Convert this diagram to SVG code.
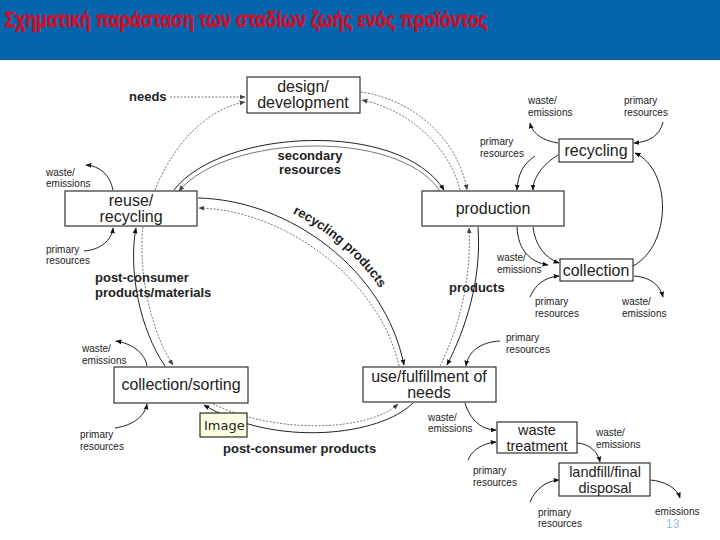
<svg xmlns="http://www.w3.org/2000/svg" width="720" height="540" viewBox="0 0 720 540">
<defs>
<marker id="ak" viewBox="0 0 10 10" refX="9" refY="5" markerWidth="6" markerHeight="6" markerUnits="userSpaceOnUse" orient="auto"><path d="M0,1 L10,5 L0,9 z" fill="#111"/></marker>
<marker id="ag" viewBox="0 0 10 10" refX="9" refY="5" markerWidth="6" markerHeight="6" markerUnits="userSpaceOnUse" orient="auto"><path d="M0,1 L10,5 L0,9 z" fill="#444"/></marker>
<style>
.s{fill:none;stroke:#222;stroke-width:1}
.g{fill:none;stroke:#777;stroke-width:1}
.d{fill:none;stroke:#777;stroke-width:1;stroke-dasharray:2 1.5}
.box{fill:#fff;stroke:#333;stroke-width:1.2}
text{font-family:"Liberation Sans",Arial,sans-serif;fill:#222}
.bt{font-size:16px;text-anchor:middle}
.bt2{font-size:14.5px;text-anchor:middle}
.sm{font-size:10px}
.b{font-size:13px;font-weight:bold}
</style>
</defs>
<rect x="0" y="0" width="720" height="540" fill="#fff"/>
<rect x="0" y="0" width="720" height="60" fill="#0565AC"/>
<text x="5" y="27" font-size="22" font-weight="bold" style="fill:#D0102A;stroke:#D0102A;stroke-width:0.6" textLength="483" lengthAdjust="spacingAndGlyphs">Σχηματική παράσταση των σταδίων ζωής ενός προϊόντος</text>

<g id="connectors">
<path class="d" d="M170,97 L245,97" marker-end="url(#ag)"/>
<path class="d" d="M155,190 C175,140 210,108 245,102" marker-end="url(#ag)"/>
<path class="d" d="M361,92 C415,100 458,140 467,190" marker-end="url(#ag)"/>
<path class="d" d="M460,190 C450,148 410,110 362,100" marker-end="url(#ag)"/>
<path class="s" d="M174,190 C222,128 400,120 444,190" marker-end="url(#ak)"/>
<path class="g" d="M440,191 C398,128 226,134 179,191" marker-end="url(#ag)"/>
<path class="s" d="M198,198 C290,200 385,270 404,365" marker-end="url(#ak)"/>
<path class="d" d="M399,366 C380,280 285,210 199,208" marker-end="url(#ag)"/>
<path class="s" d="M478,227 C482,280 465,330 447,365" marker-end="url(#ak)"/>
<path class="d" d="M440,366 C458,330 472,280 469,228" marker-end="url(#ag)"/>
<path class="s" d="M413,403 C380,436 275,448 204,405" marker-end="url(#ak)"/>
<path class="d" d="M213,404 C275,434 368,432 398,404" marker-end="url(#ag)"/>
<path class="s" d="M165,366 C140,330 128,270 136,228" marker-end="url(#ak)"/>
<path class="d" d="M143,227 C138,270 150,330 173,365" marker-end="url(#ag)"/>
<path class="s" d="M113,190 C110,175 100,166 86,165" marker-end="url(#ak)"/>
<path class="s" d="M84,251 C100,250 112,240 113,228" marker-end="url(#ak)"/>
<path class="s" d="M558,143 C540,140 532,132 530,123" marker-end="url(#ak)"/>
<path class="s" d="M663,122 C660,135 650,142 634,143" marker-end="url(#ak)"/>
<path class="s" d="M535,156 C522,165 518,175 517,190" marker-end="url(#ak)"/>
<path class="s" d="M558,155 C542,165 533,178 533,190" marker-end="url(#ak)"/>
<path class="s" d="M517,227 C518,250 530,262 548,265" marker-end="url(#ak)"/>
<path class="s" d="M533,227 C535,245 545,258 559,263" marker-end="url(#ak)"/>
<path class="s" d="M633,266 C672,245 672,170 635,153" marker-end="url(#ak)"/>
<path class="s" d="M530,297 C535,285 545,277 559,276" marker-end="url(#ak)"/>
<path class="s" d="M634,276 C650,277 660,285 663,297" marker-end="url(#ak)"/>
<path class="s" d="M147,366 C145,352 130,343 116,341" marker-end="url(#ak)"/>
<path class="s" d="M115,428 C135,425 145,415 147,404" marker-end="url(#ak)"/>
<path class="s" d="M500,341 C480,342 468,352 466,366" marker-end="url(#ak)"/>
<path class="s" d="M465,403 C470,420 482,430 496,430" marker-end="url(#ak)"/>
<path class="s" d="M468,460 C472,450 483,443 496,442" marker-end="url(#ak)"/>
<path class="s" d="M577,443 C590,444 598,452 600,462" marker-end="url(#ak)"/>
<path class="s" d="M530,502 C535,490 545,481 559,480" marker-end="url(#ak)"/>
<path class="s" d="M650,480 C665,481 677,488 680,498" marker-end="url(#ak)"/>
<path id="rpPath" fill="none" d="M204,191 C296,193 391,263 410,359"/>
</g>

<g id="design">
<rect class="box" x="247" y="77" width="113" height="36"/>
<text class="bt" x="303" y="92">design/</text>
<text class="bt" x="303" y="108">development</text>
</g>
<g id="reuse">
<rect class="box" x="65" y="191" width="132" height="35"/>
<text class="bt" x="131" y="206">reuse/</text>
<text class="bt" x="131" y="222">recycling</text>
</g>
<g id="production">
<rect class="box" x="422" y="191" width="142" height="35"/>
<text class="bt" x="493" y="214">production</text>
</g>
<g id="recycling">
<rect class="box" x="559" y="139" width="74" height="23"/>
<text class="bt" x="596" y="156">recycling</text>
</g>
<g id="collection">
<rect class="box" x="560" y="259" width="73" height="22"/>
<text class="bt" x="596" y="276">collection</text>
</g>
<g id="collection-sorting">
<rect class="box" x="114" y="367" width="134" height="36"/>
<text class="bt" x="181" y="390">collection/sorting</text>
</g>
<g id="use">
<rect class="box" x="363" y="367" width="133" height="35"/>
<text class="bt" x="429" y="382">use/fulfillment of</text>
<text class="bt" x="429" y="398">needs</text>
</g>
<g id="waste-treatment">
<rect class="box" x="497" y="422" width="80" height="31"/>
<text class="bt2" x="537" y="435">waste</text>
<text class="bt2" x="537" y="451">treatment</text>
</g>
<g id="landfill">
<rect class="box" x="559" y="463" width="91" height="33"/>
<text class="bt2" x="605" y="477">landfill/final</text>
<text class="bt2" x="605" y="493">disposal</text>
</g>

<g id="labels">
<text class="b" x="129" y="101">needs</text>
<text class="b" x="310" y="160" text-anchor="middle">secondary</text>
<text class="b" x="310" y="174" text-anchor="middle">resources</text>
<text class="b" font-size="14"><textPath href="#rpPath" startOffset="92">recycling products</textPath></text>
<text class="b" x="95" y="282">post-consumer</text>
<text class="b" x="95" y="297">products/materials</text>
<text class="b" x="449" y="292">products</text>
<text class="b" x="223" y="453">post-consumer products</text>

<text class="sm" x="46" y="176">waste/</text><text class="sm" x="46" y="187">emissions</text>
<text class="sm" x="46" y="253">primary</text><text class="sm" x="46" y="264">resources</text>
<text class="sm" x="528" y="104">waste/</text><text class="sm" x="528" y="116">emissions</text>
<text class="sm" x="624" y="104">primary</text><text class="sm" x="624" y="116">resources</text>
<text class="sm" x="480" y="145">primary</text><text class="sm" x="480" y="157">resources</text>
<text class="sm" x="497" y="261">waste/</text><text class="sm" x="497" y="273">emissions</text>
<text class="sm" x="535" y="305">primary</text><text class="sm" x="535" y="317">resources</text>
<text class="sm" x="622" y="305">waste/</text><text class="sm" x="622" y="317">emissions</text>
<text class="sm" x="82" y="352">waste/</text><text class="sm" x="82" y="364">emissions</text>
<text class="sm" x="80" y="438">primary</text><text class="sm" x="80" y="450">resources</text>
<text class="sm" x="506" y="341">primary</text><text class="sm" x="506" y="353">resources</text>
<text class="sm" x="428" y="421">waste/</text><text class="sm" x="428" y="432">emissions</text>
<text class="sm" x="596" y="436">waste/</text><text class="sm" x="596" y="448">emissions</text>
<text class="sm" x="473" y="474">primary</text><text class="sm" x="473" y="486">resources</text>
<text class="sm" x="538" y="516">primary</text><text class="sm" x="538" y="527">resources</text>
<text class="sm" x="655" y="515">emissions</text>
</g>

<g id="tooltip">
<rect x="200" y="413" width="47" height="24" fill="#FFFFE1" stroke="#000" stroke-width="1"/>
<text x="204" y="430" font-size="13" style="font-family:'DejaVu Sans',sans-serif">Image</text>
</g>
<text x="666" y="528" font-size="12" style="fill:#9DC3E6">13</text>
</svg>
